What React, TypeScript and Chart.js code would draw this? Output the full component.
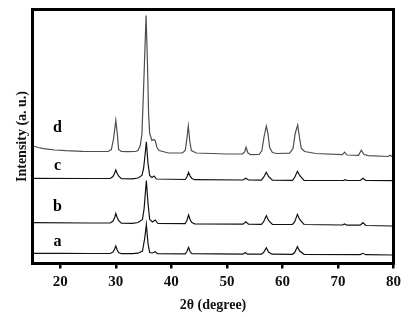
import React, { useEffect, useRef } from "react";
import { Chart, registerables } from "chart.js";

Chart.register(...registerables);

// 2θ positions (degree) and intensities (a.u., stacked with offsets already included)
const seriesNames = ["a", "b", "c", "d"];

const aTheta = [15, 20, 25, 29.0, 29.5, 29.8, 30.0, 30.25, 30.5, 31.0, 33.0, 34.0, 34.8, 35.2, 35.5, 35.8, 36.1, 36.6, 37.1, 37.5, 42.5, 42.8, 43.1, 43.4, 43.7, 52.9, 53.3, 53.7, 56.2, 56.6, 57.1, 57.5, 58.1, 61.8, 62.2, 62.7, 63.1, 63.9, 74.0, 74.5, 75.0, 80];
const aInt = [10.2, 10.2, 10.0, 10.0, 11.5, 14.5, 17.5, 13.5, 11.0, 9.8, 9.8, 10.3, 12.5, 25, 39, 20, 11, 10.5, 11.8, 9.8, 9.6, 12, 16, 11.5, 9.8, 9.3, 11, 9.3, 9.3, 11, 15.8, 11.5, 9.3, 9.2, 11, 16.8, 12.5, 9.2, 8.9, 10.2, 8.8, 8.5];

const bTheta = [15, 25, 29.0, 29.5, 29.8, 30.0, 30.25, 30.5, 31.0, 33.0, 34.0, 34.8, 35.1, 35.5, 35.8, 36.1, 36.6, 37.1, 37.6, 42.5, 42.8, 43.1, 43.4, 43.7, 44.2, 52.9, 53.4, 53.9, 56.2, 56.6, 57.1, 57.5, 58.2, 61.8, 62.2, 62.7, 63.1, 63.9, 70.8, 71.2, 71.6, 74.0, 74.5, 75.0, 80];
const bInt = [40.8, 40.5, 40.5, 42.5, 46, 50, 46, 43, 40.3, 40.2, 41, 44, 55, 83, 60, 44, 41.5, 43.5, 40, 39.8, 43, 48.5, 43.5, 41, 39.7, 39.3, 41.8, 39.3, 39.2, 41.5, 47.8, 43, 39.1, 39, 41.5, 49.2, 44, 39, 38.5, 39.5, 38.3, 38.3, 40.8, 38, 37.5];

const cTheta = [15, 25, 29.0, 29.5, 29.8, 30.0, 30.25, 30.5, 31.0, 33.0, 34.0, 34.7, 35.0, 35.2, 35.5, 35.8, 36.1, 36.5, 36.9, 37.3, 42.5, 42.8, 43.1, 43.4, 43.7, 44.2, 52.9, 53.4, 53.9, 56.2, 56.6, 57.1, 57.5, 58.2, 61.8, 62.2, 62.7, 63.1, 63.9, 71.0, 71.3, 71.6, 74.0, 74.5, 75.0, 80];
const cInt = [85.2, 85, 85, 87, 90.5, 93.5, 90, 87.5, 84.8, 84.6, 85.5, 88, 95, 105, 121.8, 100, 88, 86, 87.5, 84.5, 84, 86.5, 91, 87, 85, 83.8, 83.5, 85.2, 83.5, 83.4, 86, 91.2, 87, 83.3, 83.2, 86, 92.2, 88, 83.2, 83, 83.8, 83, 83, 85.2, 83, 82.8];

const dTheta = [15, 16, 17, 19, 21, 24, 27, 28.6, 29.2, 29.6, 30.0, 30.3, 30.5, 31.0, 32, 33.5, 34.0, 34.4, 34.7, 35.0, 35.45, 35.7, 35.9, 36.1, 36.5, 36.8, 37.1, 37.4, 37.8, 39.5, 42.0, 42.5, 42.8, 43.05, 43.3, 43.6, 44.5, 50, 52.8, 53.2, 53.45, 53.8, 54.3, 55.8, 56.3, 56.7, 57.1, 57.4, 57.7, 58.2, 59, 61.3, 61.9, 62.3, 62.75, 63.1, 63.4, 64.0, 66, 70.8, 71.2, 71.6, 73.7, 74.2, 74.7, 75.5, 79.0, 79.4, 79.8, 80];
const dInt = [117.8, 116, 114.8, 113.5, 112.8, 112.2, 112, 112, 114, 125, 143, 128, 114, 112, 111.8, 112, 113, 118, 129, 175, 248, 200, 150, 130, 123, 124, 122.8, 116, 113, 110.5, 110.5, 113, 125, 137.5, 123, 113, 110.5, 109.5, 109.5, 111.5, 116.2, 110.5, 108.8, 109, 113, 127, 137.5, 130, 116, 111, 110, 110.3, 115, 130, 138.5, 125, 115, 112, 110, 108.8, 111.3, 108.5, 108.2, 113.3, 109, 107.8, 107, 108.3, 106.8, 106.8];

const xTicks = [20, 30, 40, 50, 60, 70, 80];

const toPoints = (xs: number[], ys: number[]) => xs.map((x, i) => ({ x, y: ys[i] }));

const serif = "'Liberation Serif', 'Times New Roman', serif";

const curveLabels = {
  id: "curveLabels",
  afterDatasetsDraw(chart: any) {
    const { ctx, scales } = chart;
    const anchors = [21.5, 56.5, 97.5, 135.5];
    ctx.save();
    ctx.font = `bold 16px ${serif}`;
    ctx.fillStyle = "#000";
    ctx.textAlign = "center";
    ctx.textBaseline = "middle";
    seriesNames.forEach((name, i) => {
      ctx.fillText(name, scales.x.getPixelForValue(19.5), scales.y.getPixelForValue(anchors[i]));
    });
    const a = chart.chartArea;
    ctx.lineWidth = 3;
    ctx.strokeStyle = "#000";
    ctx.strokeRect(a.left, a.top, a.right - a.left, a.bottom - a.top);
    ctx.restore();
  },
};

export default function App() {
  const ref = useRef<HTMLCanvasElement>(null);
  useEffect(() => {
    if (!ref.current) return;
    const colors = ["#111", "#111", "#111", "#4d4d4d"];
    const data = [toPoints(aTheta, aInt), toPoints(bTheta, bInt), toPoints(cTheta, cInt), toPoints(dTheta, dInt)];
    const chart = new Chart(ref.current, {
      type: "line",
      data: {
        datasets: data.map((d, i) => ({
          label: seriesNames[i],
          data: d,
          borderColor: colors[i],
          borderWidth: 1.2,
          pointRadius: 0,
          tension: 0,
          fill: false,
        })),
      },
      options: {
        responsive: false,
        animation: false,
        layout: { padding: { top: 9.5, right: 14.5, left: 0, bottom: 0 } },
        plugins: { legend: { display: false }, tooltip: { enabled: false } },
        scales: {
          x: {
            type: "linear",
            min: 15,
            max: 80,
            afterBuildTicks: (s: any) => {
              s.ticks = xTicks.map((v) => ({ value: v }));
            },
            afterFit: (s: any) => {
              s.height = 53.5;
            },
            border: { display: false },
            grid: { drawOnChartArea: false, drawTicks: true, tickLength: 5, lineWidth: 2.5, color: "#000" },
            ticks: {
              color: "#111",
              padding: 5,
              font: { family: serif, size: 15, weight: "bold" },
            },
            title: {
              display: true,
              text: "2θ (degree)",
              color: "#111",
              padding: { top: 0, bottom: 3 },
              font: { family: serif, size: 14, weight: "bold" },
            },
          },
          y: {
            min: 0,
            max: 254,
            afterFit: (s: any) => {
              s.width = 32.5;
            },
            border: { display: false },
            grid: { display: false },
            ticks: { display: false },
            title: {
              display: true,
              text: "Intensity (a. u.)",
              color: "#111",
              padding: { top: 13.5, bottom: 0 },
              font: { family: serif, size: 14, weight: "bold" },
            },
          },
        },
      },
      plugins: [curveLabels],
    });
    return () => chart.destroy();
  }, []);
  return (
    <div style={{ position: "absolute", left: 0, top: 0, width: 408, height: 317, background: "#fff" }}>
      <canvas ref={ref} width={408} height={317} style={{ width: 408, height: 317 }} />
    </div>
  );
}
